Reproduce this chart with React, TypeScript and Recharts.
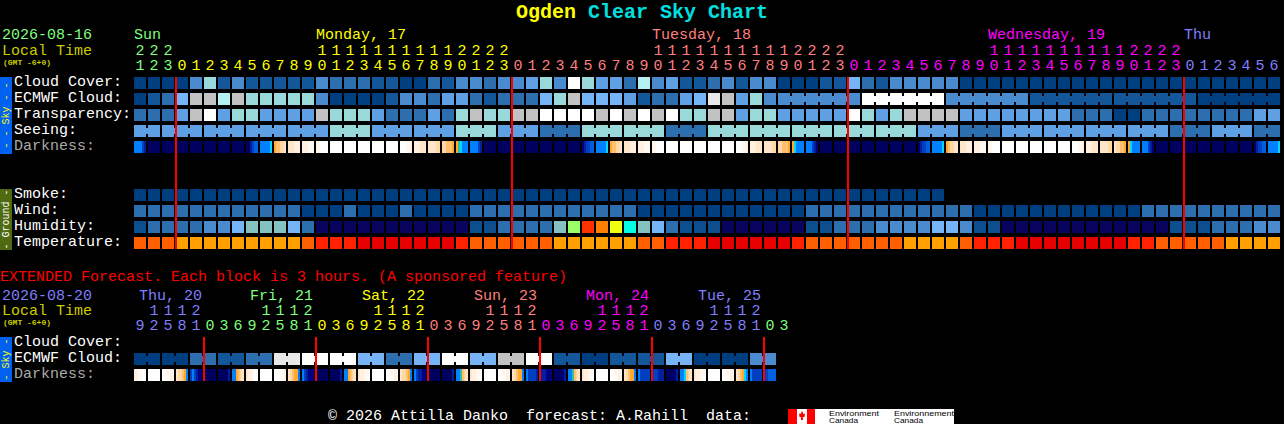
import React from "react";
import { ScatterChart, Scatter, XAxis, YAxis } from "recharts";

const MONO = "'Liberation Mono', monospace";

// colour scales
const skyScale = ["#003f7f", "#13569a", "#2c6eae", "#4a8bcf", "#5f9fe3", "#76b4f8", "#99d9d9", "#b3f0f0", "#c2c2c2", "#e8e8e8", "#ffffff"];
const humidityScale = ["#08035f", "#0d4e8e", "#2c6eae", "#4a8bcf", "#76b4f8", "#84c2c2", "#99ff66", "#ff3300", "#ff8000", "#eeff11", "#00ffe5"];
const tempScale = ["#ffa000", "#ff5f00", "#ff2200", "#e60000"];

// darkness shades
const W = "#ffffff", P1 = "#fff8f0", P2 = "#fff0e0", P3 = "#ffe6c8", P4 = "#ffd8a4", P5 = "#ffc070", O = "#ffa830";
const C = "#00d8ff", T = "#30c0a0", B = "#0080ff", B2 = "#0060e0", B3 = "#0040c0", B4 = "#0020a0", N1 = "#000080", N = "#000060";

// hourly forecast
const hours = [21, 22, 23,
  0, 1, 2, 3, 4, 5, 6, 7, 8, 9, 10, 11, 12, 13, 14, 15, 16, 17, 18, 19, 20, 21, 22, 23,
  0, 1, 2, 3, 4, 5, 6, 7, 8, 9, 10, 11, 12, 13, 14, 15, 16, 17, 18, 19, 20, 21, 22, 23,
  0, 1, 2, 3, 4, 5, 6, 7, 8, 9, 10, 11, 12, 13, 14, 15, 16, 17, 18, 19, 20, 21, 22, 23,
  0, 1, 2, 3, 4, 5, 6];
const dayStarts = [0, 3, 27, 51, 75];
const dayColors = ["#7fff7f", "#ffff00", "#ff7f7f", "#ff00ff", "#7f7fff"];
const dayNames = ["Sun", "Monday, 17", "Tuesday, 18", "Wednesday, 19", "Thu"];
const dayNameCols = [0, 13, 37, 61, 75];

const rowLabels = ["Cloud Cover:", "ECMWF Cloud:", "Transparency:", "Seeing:", "Darkness:", "Smoke:", "Wind:", "Humidity:", "Temperature:"];
const rowSlots = [0, 1, 2, 3, 4, 7, 8, 9, 10];

const cloudCover = [0, 0, 0, 0, 3, 6, 1, 3, 1, 1, 1, 1, 1, 3, 2, 2, 2, 1, 1, 0, 0,
  2, 1, 3, 3, 2, 3, 3, 4, 6, 3, 10, 6, 4, 4, 2, 7, 3, 4, 1, 1, 2, 3, 1, 3, 3, 0, 0, 0, 1, 1, 5,
  2, 1, 3, 3, 3, 3, 3, 0, 0, 0, 0, 0, 0, 0, 0, 0, 0, 0, 0, 0, 0, 0, 0, 0, 0, 0, 0, 0, 0, 0];
const ecmwfCloud = [0, 1, 2, 5, 8, 8, 7, 8, 6, 6, 6, 6, 6, 3, 0, 0, 0, 0, 1, 3, 3,
  2, 4, 4, 2, 1, 2, 2, 2, 5, 6, 8, 5, 5, 5, 4, 1, 2, 2, 4, 5, 9, 8, 4, 6, 3,
  3, 3, 3, 3, 3, 3, 10, 10, 10, 10, 10, 10, 3, 3, 3, 3, 3, 3, 1, 1, 1, 1, 1, 1, 1, 1, 1, 1, 1, 1, 0, 0, 0, 0, 0, 0];
const ecmwfSpans = [1, 1, 1, 1, 1, 1, 1, 1, 1, 1, 1, 1, 1, 1, 1, 1, 1, 1, 1, 1, 1, 1, 1, 1, 1, 1, 1, 1, 1, 1, 1, 1, 1, 1, 1, 1, 1, 1, 1, 1, 1, 1, 1, 1, 1, 1, 6, 6, 6, 6, 6, 6];
const transparency = [2, 2, 2, 4, 8, 10, 4, 6, 6, 4, 4, 4, 4, 8, 6, 6, 6, 4, 2, 2, 2,
  4, 2, 6, 8, 6, 6, 8, 8, 10, 10, 10, 10, 8, 10, 8, 10, 8, 10, 6, 6, 8, 8, 4, 6, 6, 4, 4, 4, 4, 4, 10,
  6, 4, 6, 8, 8, 8, 8, 4, 4, 4, 4, 4, 4, 4, 4, 2, 2, 2, 0, 0, 2, 2, 2, 2, 2, 2, 2, 2, 4, 4];
const seeingBlocks = [4, 4, 4, 4, 4, 6, 4, 4, 6, 4, 2, 6, 6, 2, 6, 6, 6, 6, 6, 4, 2, 4, 4, 4, 4, 2, 4, 2];
const seeingSpans = [2, 3, 3, 3, 3, 3, 3, 3, 3, 3, 3, 3, 3, 3, 3, 3, 3, 3, 3, 3, 3, 3, 3, 3, 3, 3, 3, 2];
const smoke = [0, 0, 0, 0, 0, 0, 0, 0, 0, 0, 0, 0, 0, 0, 0, 0, 0, 0, 0, 0, 0, 0, 0, 0, 0, 0, 0, 0, 0,
  0, 0, 0, 0, 0, 0, 0, 0, 0, 0, 0, 0, 0, 0, 0, 0, 0, 0, 0, 0, 0, 0, 0, 0, 0, 0, 0, 0, 0];
const wind = [2, 2, 2, 2, 2, 2, 2, 2, 2, 2, 2, 2, 0, 0, 0, 2, 0, 0, 0, 2, 0, 0, 0, 0,
  2, 2, 2, 2, 2, 2, 2, 2, 2, 2, 2, 2, 0, 0, 0, 0, 0, 0, 0, 0, 0, 0, 0, 0,
  2, 2, 2, 2, 2, 2, 2, 2, 2, 2, 2, 2, 0, 0, 0, 0, 0, 0, 0, 0, 0, 0, 0, 0,
  2, 2, 2, 2, 2, 2, 2, 2, 2, 2];
const humidity = [1, 2, 2, 2, 2, 3, 3, 4, 5, 5, 5, 4, 2, 0, 0, 0, 0, 0, 0, 0, 0, 0, 0, 0,
  1, 1, 2, 2, 2, 2, 5, 6, 7, 8, 9, 10, 5, 4, 2, 1, 1, 1, 0, 0, 0, 0, 0, 0,
  1, 1, 2, 2, 2, 3, 3, 3, 3, 4, 4, 3, 1, 1, 0, 0, 0, 0, 0, 0, 0, 0, 0, 0, 0, 0,
  1, 1, 1, 2, 2, 2, 3, 3];
const temperature = [1, 1, 1, 0, 0, 0, 0, 0, 0, 0, 0, 0, 1, 2, 2, 2, 3, 3, 3, 3, 3, 3, 3, 2,
  1, 1, 1, 1, 1, 1, 0, 0, 0, 0, 0, 0, 1, 1, 2, 2, 2, 3, 3, 3, 3, 3, 3, 2,
  1, 1, 1, 1, 1, 1, 1, 0, 0, 0, 0, 1, 2, 2, 2, 3, 3, 3, 3, 3, 3, 3, 3, 2, 2,
  1, 1, 1, 1, 1, 0, 0, 0, 0];
const darkness = [
  [B, B, B, B, B3, B4], [N], [N], [N], [N], [N], [N], [N],
  [N, N, B4, B3, B2, B2], [B, B, B, B, B, C], [O, P5, P5, P4, P4, P3], [P3, P3, P3, P2, P2, P2], [P2, P2, P2, P1, P1, P1], [P1, P1, W, W, W, W],
  [W], [W], [W], [W], [W], [W, W, W, P1, P1, P2], [P2, P2, P2, P3, P3, P3], [P3, P3, P3, P3, P4, P4], [P4, P4, P5, P5, P5, O], [O, T, C, B, B, B],
  [B, B, B, B, B3, B4], [N], [N], [N], [N], [N], [N], [N],
  [N1, B4, B3, B3, B2, B2], [B, B, B, B, B, C], [O, P5, P5, P4, P4, P3], [P3, P3, P3, P2, P2, P2], [P2, P2, P2, P1, P1, P1], [P1, P1, W, W, W, W],
  [W], [W], [W], [W], [W], [W, W, W, P1, P1, P2], [P2, P2, P2, P3, P3, P3], [P3, P3, P3, P3, P4, P4], [P4, P4, P5, P5, P5, O], [O, C, B, B, B, B],
  [B, B, B, B3, B4, N1], [N], [N], [N], [N], [N], [N], [N],
  [N, B4, B3, B3, B2, B2], [B, B, B, B, B, C], [O, P5, P4, P4, P3, P3], [P3, P3, P3, P2, P2, P2], [P2, P2, P2, P1, P1, P1], [P1, P1, W, W, W, W],
  [W], [W], [W], [W], [W], [W, W, W, P1, P1, P2], [P2, P2, P2, P3, P3, P3], [P3, P3, P3, P3, P4, P4], [P3, P4, P4, P5, P5, O], [O, C, B, B, B, B],
  [B, B, B, B3, B4, N1], [N], [N], [N], [N], [N], [N], [N],
  [N, B4, B3, B3, B2, B2], [B, B, B, B, B, C],
];
const redLineCols = [3, 27, 51, 75];

// extended forecast
const extHours = [9, 12, 15, 18, 21,
  0, 3, 6, 9, 12, 15, 18, 21, 0, 3, 6, 9, 12, 15, 18, 21, 0, 3, 6, 9, 12, 15, 18, 21,
  0, 3, 6, 9, 12, 15, 18, 21, 0, 3, 6, 9, 12, 15, 18, 21, 0, 3];
const extDayStarts = [0, 5, 13, 21, 29, 37, 45];
const extDayColors = ["#7f7fff", "#7fff7f", "#ffff00", "#ff7f7f", "#ff00ff", "#7f7fff", "#7fff7f"];
const extDayNames = ["Thu, 20", "Fri, 21", "Sat, 22", "Sun, 23", "Mon, 24", "Tue, 25"];
const extDayNameX = [139, 250, 362, 474, 586, 698];
const extRowLabels = ["Cloud Cover:", "ECMWF Cloud:", "Darkness:"];
const extBlocks = [0, 0, 2, 1, 2, 9, 10, 10, 5, 2, 5, 10, 5, 8, 10, 1, 0, 1, 1, 5, 0, 0, 3];
const extDarkness = [
  [P2, P2, P1, P1, W, W], [W], [W, W, P1, P1, P2, P2], [P3, P4, P4, P5, O, B], [B3, B, B3, B4, N1, N1], [N], [N, N, N, N, N, B4], [B, B, O, P5, P4, P3],
  [P3, P2, P2, P1, W, W], [W], [W, W, W, P1, P1, P2], [P3, P4, P5, O, O, B], [B, B3, B4, N1, N1, N1], [N], [N, N, N, N, N, B4], [B, B, O, P5, P4, P3],
  [P3, P2, P2, P1, P1, W], [W], [W, W, P1, P1, P2, P2], [P3, P4, P4, P5, O, B], [B, B3, B4, B4, N1, N1], [N], [N, N, N, N, N, B4], [B, B, T, P5, P4, P3],
  [P3, P2, P2, P1, P1, W], [W], [W, W, P1, P1, P2, P2], [P3, P4, P5, O, O, B], [B, B3, B3, B3, B3, B4], [B4, B4, B4, N1, N1, N1], [N, N, N, N, N1, B4], [B, B, T, P5, P4, P3],
  [P3, P2, P2, P1, P1, W], [W], [W, W, P1, P1, P2, P2], [P3, P4, P5, O, O, B], [B, B3, B3, B3, B3, B3], [B3, B3, B3, B4, B4, B4], [N, N, N, N, N1, B4], [B, B, C, P5, P4, P3],
  [P3, P2, P2, P1, P1, W], [W], [W, W, P1, P1, P2, P2], [P3, P4, P5, O, C, B], [B, B3, B3, B3, B3, B3], [B3, B3, B2, B2, B2, B2],
];
const extRedLineCols = [5, 13, 21, 29, 37, 45];

type Pt = { col: number; row: number; strips: string[]; joined: boolean };

const levelRow = (values: number[], row: number, scale: string[], spans?: number[]): Pt[] => {
  const ends = new Set<number>();
  if (spans) {
    let at = 0;
    spans.forEach((s) => { at += s; ends.add(at - 1); });
  }
  return values.map((v, col) => ({
    col,
    row,
    strips: [scale[v]],
    joined: !!spans && !ends.has(col) && col < values.length - 1,
  }));
};
const stripRow = (cells: string[][], row: number): Pt[] =>
  cells.map((strips, col) => ({ col, row, strips, joined: false }));
const expand = (blocks: number[], spans: number[]) =>
  blocks.flatMap((b, i) => new Array(spans[i]).fill(b) as number[]);

const Block = (props: any) => {
  const { cx, cy, payload } = props;
  const { strips, joined } = payload as Pt;
  const w = 12 / strips.length;
  return (
    <g shapeRendering="crispEdges">
      {strips.map((c, i) => (
        <rect key={i} x={cx + i * w} y={cy} width={w} height={12} fill={c} />
      ))}
      {joined && <rect x={cx + 12} y={cy + 3} width={2} height={6} fill={strips[0]} />}
    </g>
  );
};
const NoMark = () => <g />;

const colorAt = (col: number, starts: number[], colors: string[]) => {
  let c = colors[0];
  starts.forEach((s, i) => { if (col >= s) c = colors[i]; });
  return c;
};

const HourTick = (p: any, list: number[], starts: number[], colors: string[], y10: number, y1: number) => {
  const col = p.payload.value as number;
  const h = list[col];
  const fill = colorAt(col, starts, colors);
  return (
    <g key={col} fontFamily={MONO} fontSize={15} fill={fill} textAnchor="middle">
      {h >= 10 && <text x={p.x + 6} y={y10}>{Math.floor(h / 10)}</text>}
      <text x={p.x + 6} y={y1}>{h % 10}</text>
    </g>
  );
};

const RowTick = (p: any, slots: number[], labels: string[]) => {
  const label = labels[slots.indexOf(p.payload.value)];
  return (
    <text key={label} x={14} y={p.y + 9} fontFamily={MONO} fontSize={15} fill={label === "Darkness:" ? "#aaaaaa" : "#ffffff"}>
      {label}
    </text>
  );
};

const mainRows: Pt[][] = [
  levelRow(cloudCover, 0, skyScale),
  levelRow(ecmwfCloud, 1, skyScale, ecmwfSpans),
  levelRow(transparency, 2, skyScale),
  levelRow(expand(seeingBlocks, seeingSpans), 3, skyScale, seeingSpans),
  stripRow(darkness, 4),
  levelRow(smoke, 7, skyScale),
  levelRow(wind, 8, skyScale),
  levelRow(humidity, 9, humidityScale),
  levelRow(temperature, 10, tempScale),
];
const extSpans = extBlocks.map(() => 2);
const extRows: Pt[][] = [
  levelRow(expand(extBlocks, extSpans), 1, skyScale, extSpans),
  stripRow(extDarkness, 2),
];

const label = (x: number, y: number, fill: string, text: string, extra: any = {}) => (
  <text x={x} y={y} fill={fill} fontFamily={MONO} fontSize={15} style={{ whiteSpace: "pre" }} {...extra}>{text}</text>
);

const sideBar = (y: number, h: number, fill: string, color: string, text: string) => (
  <g>
    <rect x={0} y={y} width={12} height={h} fill={fill} />
    <text transform={`translate(9 ${y + h / 2}) rotate(-90)`} textAnchor="middle" fontFamily={MONO} fontSize={10} fill={color} style={{ whiteSpace: "pre" }}>{text}</text>
  </g>
);

const redLine = (c: number, bottom: number) => (
  <Scatter
    key={c}
    data={[{ col: c, row: 0 }, { col: c, row: bottom }]}
    line={{ stroke: "#ff0000", strokeWidth: 2 }}
    shape={NoMark}
    isAnimationActive={false}
  />
);

export default function App() {
  return (
    <div style={{ position: "absolute", left: 0, top: 0, width: 1284, height: 424, background: "#000", overflow: "hidden" }}>
      <svg width={1284} height={424} style={{ position: "absolute", left: 0, top: 0 }}>
        <text x={516} y={18} fontFamily={MONO} fontSize={20} fontWeight="bold">
          <tspan fill="#ffff00">Ogden</tspan>
          <tspan fill="#00e0e0" dx={12}>Clear Sky Chart</tspan>
        </text>
        {label(2, 39, "#7fff7f", "2026-08-16")}
        {label(2, 55, "#cccc00", "Local Time")}
        <text x={3} y={65} fill="#cccc00" fontFamily={MONO} fontSize={8} fontWeight="bold">(GMT -6+0)</text>
        {dayNames.map((d, i) => <g key={d}>{label(134 + 14 * dayNameCols[i], 39, dayColors[i], d)}</g>)}
        {sideBar(77, 77, "#0060f0", "#ffff00", "- - Sky - -")}
        {sideBar(189, 61, "#4f6a10", "#ffffff", "- Ground -")}

        {label(0, 281, "#ff0000", "EXTENDED Forecast. Each block is 3 hours. (A sponsored feature)")}
        {label(2, 300, "#7f7fff", "2026-08-20")}
        {label(2, 315, "#cccc00", "Local Time")}
        <text x={3} y={325} fill="#cccc00" fontFamily={MONO} fontSize={8} fontWeight="bold">(GMT -6+0)</text>
        {extDayNames.map((d, i) => <g key={d}>{label(extDayNameX[i], 300, extDayColors[i], d)}</g>)}
        {sideBar(337, 45, "#0060f0", "#ffff00", "- Sky -")}

        {label(328, 420, "#ffffff", "© 2026 Attilla Danko  forecast: A.Rahill  data:")}
        <g shapeRendering="crispEdges">
          <rect x={788} y={409} width={27} height={15} fill="#ffffff" />
          <rect x={788} y={409} width={9} height={15} fill="#ff0000" />
          <rect x={807} y={409} width={8} height={15} fill="#ff0000" />
          <rect x={815} y={409} width={139} height={15} fill="#ffffff" />
        </g>
        <polygon points="802,411 803.5,414 805,413.5 804.5,417 801,417.5 801,420 803,420 803,417.5 799.5,417 799,413.5 800.5,414" fill="#ff0000" />
        <g fontFamily="'Liberation Sans', sans-serif" fontSize={8} fill="#000000">
          <text x={829} y={416} textLength={50} lengthAdjust="spacingAndGlyphs">Environment</text>
          <text x={829} y={423} textLength={29} lengthAdjust="spacingAndGlyphs">Canada</text>
          <text x={894} y={416} textLength={60} lengthAdjust="spacingAndGlyphs">Environnement</text>
          <text x={894} y={423} textLength={29} lengthAdjust="spacingAndGlyphs">Canada</text>
        </g>
      </svg>

      <div style={{ position: "absolute", left: 0, top: 0 }}>
        <ScatterChart width={1284} height={262} margin={{ top: 47, right: 2, bottom: 9, left: 0 }}>
          <XAxis
            xAxisId={0}
            orientation="top"
            type="number"
            dataKey="col"
            domain={[0, 82]}
            ticks={hours.map((_, i) => i)}
            interval={0}
            height={30}
            axisLine={false}
            tickLine={false}
            tick={(p: any) => HourTick(p, hours, dayStarts, dayColors, 55, 70)}
          />
          <YAxis
            yAxisId={0}
            type="number"
            dataKey="row"
            reversed
            domain={[0, 11]}
            ticks={rowSlots}
            interval={0}
            width={134}
            axisLine={false}
            tickLine={false}
            tick={(p: any) => RowTick(p, rowSlots, rowLabels)}
          />
          {mainRows.map((r, i) => (
            <Scatter key={i} data={r} shape={Block} isAnimationActive={false} />
          ))}
          {redLineCols.map((c) => redLine(c, 10.75))}
        </ScatterChart>
      </div>

      <div style={{ position: "absolute", left: 0, top: 262 }}>
        <ScatterChart width={1284} height={162} margin={{ top: 45, right: 2, bottom: 39, left: 0 }}>
          <XAxis
            xAxisId={0}
            orientation="top"
            type="number"
            dataKey="col"
            domain={[0, 82]}
            ticks={extHours.map((_, i) => i)}
            interval={0}
            height={30}
            axisLine={false}
            tickLine={false}
            tick={(p: any) => HourTick(p, extHours, extDayStarts, extDayColors, 53, 68)}
          />
          <YAxis
            yAxisId={0}
            type="number"
            dataKey="row"
            reversed
            domain={[0, 3]}
            ticks={[0, 1, 2]}
            interval={0}
            width={134}
            axisLine={false}
            tickLine={false}
            tick={(p: any) => RowTick(p, [0, 1, 2], extRowLabels)}
          />
          {extRows.map((r, i) => (
            <Scatter key={i} data={r} shape={Block} isAnimationActive={false} />
          ))}
          {extRedLineCols.map((c) => redLine(c, 2.75))}
        </ScatterChart>
      </div>
    </div>
  );
}
